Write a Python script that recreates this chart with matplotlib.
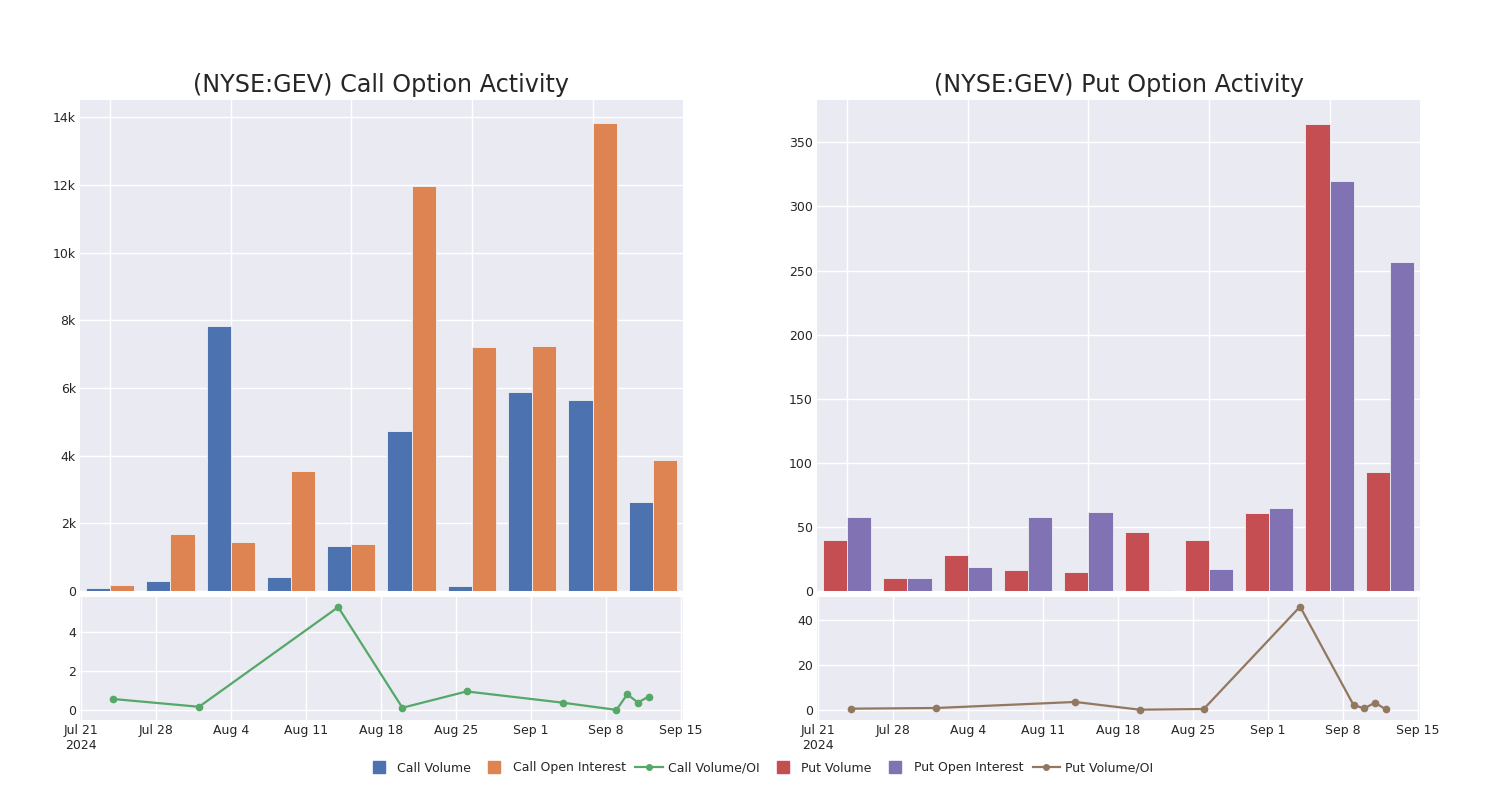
import matplotlib
matplotlib.use('Agg')
import matplotlib.pyplot as plt
from matplotlib.lines import Line2D
import pandas as pd

# data
dates = ['2024-07-24', '2024-08-01', '2024-08-14', '2024-08-20', '2024-08-26',
         '2024-09-04', '2024-09-09', '2024-09-10', '2024-09-11', '2024-09-12']
call_volume = [100, 300, 7830, 420, 1340, 4740, 160, 5890, 5640, 2640]
call_oi = [180, 1670, 1460, 3550, 1380, 11970, 7200, 7240, 13820, 3860]
call_ratio = [0.57, 0.17, 5.30, 0.12, 0.96, 0.38, 0.01, 0.81, 0.39, 0.69]
put_volume = [40, 10, 28, 16, 15, 46, 40, 61, 364, 93]
put_oi = [58, 10, 19, 58, 62, 1, 17, 65, 320, 257]
put_ratio = [0.6, 0.9, 3.6, 0.15, 0.45, 46.1, 2.2, 0.74, 3.3, 0.3]

BLUE, ORANGE, GREEN = '#4C72B0', '#DD8452', '#55A868'
RED, PURPLE, BROWN = '#C44E52', '#8172B3', '#937860'
BG = '#EAEAF2'
TXT = '#262626'

plt.rcParams['font.family'] = 'DejaVu Sans'
plt.rcParams['text.color'] = TXT

x_dates = pd.to_datetime(dates)
tick_dates = pd.date_range('2024-07-21', '2024-09-15', freq='7D')
tick_labels = [d.strftime('%b ') + str(d.day) for d in tick_dates]
tick_labels[0] += '\n' + str(tick_dates[0].year)
x_lo = tick_dates[0] - pd.Timedelta(hours=3)
x_hi = tick_dates[-1] + pd.Timedelta(hours=5)


def style_ax(ax):
    ax.set_facecolor(BG)
    for s in ax.spines.values():
        s.set_visible(False)
    ax.grid(True, color='white', linewidth=1.0)
    ax.set_axisbelow(True)
    ax.tick_params(length=0, pad=3, labelsize=9, labelcolor=TXT)


def kfmt(v, pos):
    if v == 0:
        return '0'
    return '%dk' % round(v / 1000)


fig = plt.figure(figsize=(15, 8), dpi=100)

panels = [
    (0.0533, call_volume, call_oi, call_ratio, BLUE, ORANGE, GREEN,
     '(NYSE:GEV) Call Option Activity', 14510, range(0, 14001, 2000), (-0.51, 5.82), [0, 2, 4]),
    (0.5447, put_volume, put_oi, put_ratio, RED, PURPLE, BROWN,
     '(NYSE:GEV) Put Option Activity', 383, range(0, 351, 50), (-4.45, 50.4), [0, 20, 40]),
]

idx = list(range(len(dates)))
w = 0.4
for left, vol, oi, ratio, c1, c2, c3, title, ytop, yticks, rlim, rticks in panels:
    ax = fig.add_axes([left, 0.26125, 0.402, 0.61375])
    style_ax(ax)
    ax.bar([i - w / 2 for i in idx], vol, width=w, color=c1, edgecolor='#f0f0f5', linewidth=0.6)
    ax.bar([i + w / 2 for i in idx], oi, width=w, color=c2, edgecolor='#f0f0f5', linewidth=0.6)
    ax.set_xlim(-0.5, len(dates) - 0.5)
    ax.set_ylim(0, ytop)
    ax.set_xticks(idx[::2])
    ax.set_xticklabels([])
    ax.set_yticks(list(yticks))
    if ytop > 1000:
        ax.yaxis.set_major_formatter(plt.FuncFormatter(kfmt))
    ax.set_title(title, fontsize=17.2, color=TXT, pad=6)

    bx = fig.add_axes([left, 0.1, 0.402, 0.15375])
    style_ax(bx)
    bx.plot(x_dates, ratio, color=c3, linewidth=1.6, marker='o', markersize=4.5)
    bx.set_xlim(x_lo, x_hi)
    bx.set_ylim(*rlim)
    bx.set_yticks(rticks)
    bx.set_xticks(tick_dates)
    bx.set_xticklabels(tick_labels)

handles = [
    Line2D([], [], linestyle='none', marker='s', markersize=8, color=BLUE),
    Line2D([], [], linestyle='none', marker='s', markersize=8, color=ORANGE),
    Line2D([], [], color=GREEN, linewidth=1.6, marker='o', markersize=4),
    Line2D([], [], linestyle='none', marker='s', markersize=8, color=RED),
    Line2D([], [], linestyle='none', marker='s', markersize=8, color=PURPLE),
    Line2D([], [], color=BROWN, linewidth=1.6, marker='o', markersize=4),
]
names = ['Call Volume', 'Call Open Interest', 'Call Volume/OI',
         'Put Volume', 'Put Open Interest', 'Put Volume/OI']
fig.legend(handles, names, loc='center', bbox_to_anchor=(0.506, 0.04), ncol=6,
           frameon=False, fontsize=9, handlelength=2.2, handletextpad=0.4,
           columnspacing=0.75)

fig.savefig('out.png', dpi=100, facecolor='white')
